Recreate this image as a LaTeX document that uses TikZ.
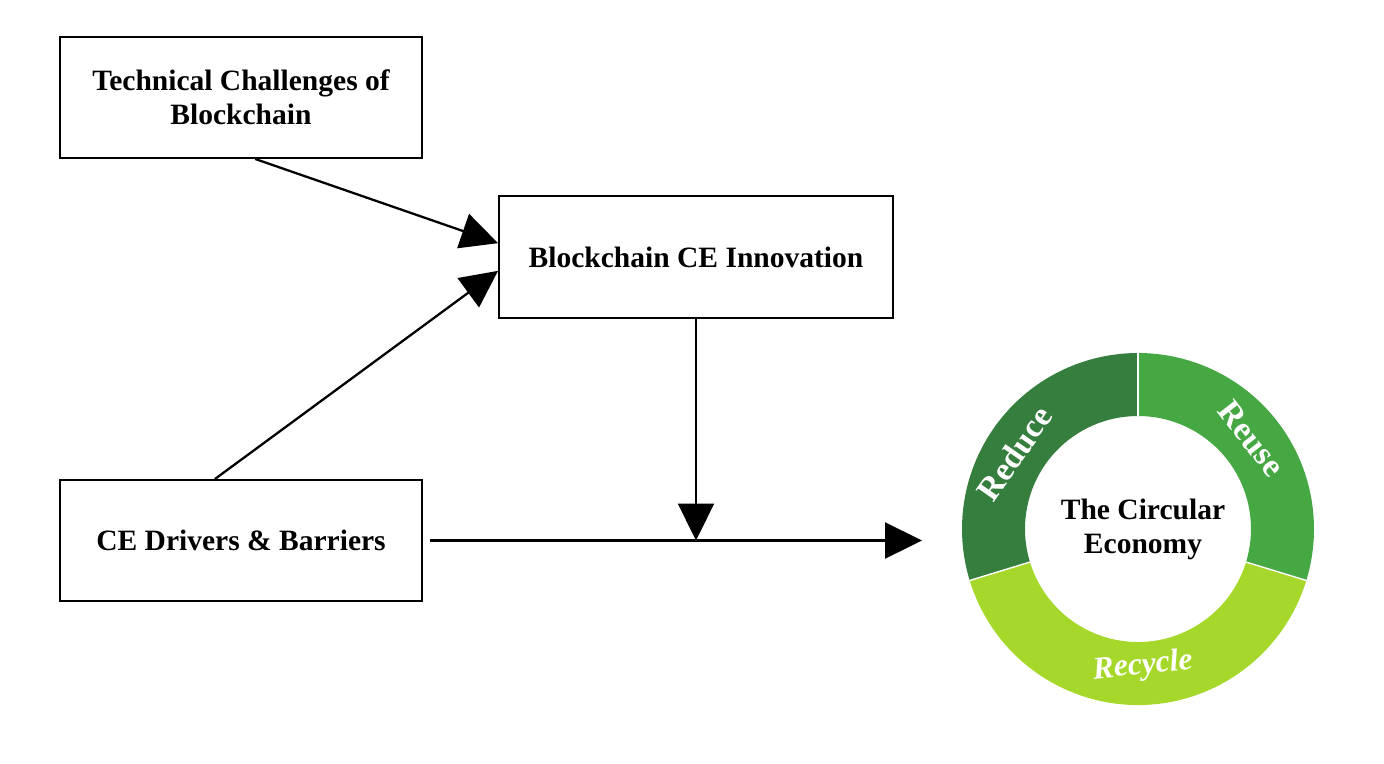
\documentclass[tikz,border=0pt]{standalone}
\usepackage{fontspec}
\setmainfont{Liberation Serif}
\usetikzlibrary{arrows.meta}
\definecolor{reducegreen}{RGB}{54,126,62}
\definecolor{reusegreen}{RGB}{69,168,67}
\definecolor{recyclegreen}{RGB}{165,216,43}
\tikzset{
    factor/.style={draw, line width=1.1pt, minimum width=7.24cm, minimum height=2.42cm, align=center, font=\fontsize{16.8}{19.4}\selectfont\bfseries},
    link/.style={-{Triangle[length=7.4mm,width=7.2mm]}, line width=1.3pt},
    ringlabel/.style={white, inner sep=0pt, font=\fontsize{19}{22}\selectfont\bfseries}
}
\begin{document}
\begin{tikzpicture}
    \useasboundingbox (0,0) rectangle (27.68,-15.26);
    % boxes
    \node[factor] (tech) at (4.82,-1.95) {Technical Challenges of\\Blockchain};
    \node[factor, minimum width=7.88cm, minimum height=2.44cm] (innov) at (13.92,-5.14) {Blockchain CE Innovation};
    \node[factor] (drivers) at (4.82,-10.81) {CE Drivers \& Barriers};
    % ring of the circular economy
    \coordinate (ce) at (22.76,-10.58);
    \fill[reducegreen] ([shift={(90:3.52)}]ce) arc[start angle=90, end angle=197, radius=3.52] -- ([shift={(197:2.26)}]ce) arc[start angle=197, end angle=90, radius=2.26] -- cycle;
    \fill[reusegreen] ([shift={(-17:3.52)}]ce) arc[start angle=-17, end angle=90, radius=3.52] -- ([shift={(90:2.26)}]ce) arc[start angle=90, end angle=-17, radius=2.26] -- cycle;
    \fill[recyclegreen] ([shift={(197:3.52)}]ce) arc[start angle=197, end angle=343, radius=3.52] -- ([shift={(343:2.26)}]ce) arc[start angle=343, end angle=197, radius=2.26] -- cycle;
    \foreach \a in {90,197,343}
        \draw[white, line width=0.8pt] ([shift={(\a:2.26)}]ce) -- ([shift={(\a:3.52)}]ce);
    \node[ringlabel, rotate=55] (reduce) at ([shift={(148.6:2.9)}]ce) {Reduce};
    \node[ringlabel, rotate=-52] (reuse) at ([shift={(38.6:2.9)}]ce) {Reuse};
    \node[ringlabel, rotate=6, font=\fontsize{18}{21}\selectfont\bfseries\itshape] (recycle) at ([shift={(272:2.75)}]ce) {Recycle};
    \node[align=center, font=\fontsize{16.8}{19.4}\selectfont\bfseries, xshift=0.1cm] (cetext) at (ce) {The Circular\\Economy};
    % arrows
    \coordinate (meet) at (innov.south |- drivers.east);
    \coordinate (target) at (18.44,-10.81);
    \draw[link] (tech.-77) -- (innov.176.5);
    \draw[link] (drivers.113) -- (innov.184.6);
    \draw[link] (innov.south) -- (meet);
    \draw[link] ([xshift=4pt]drivers.east) -- (target);
\end{tikzpicture}
\end{document}
